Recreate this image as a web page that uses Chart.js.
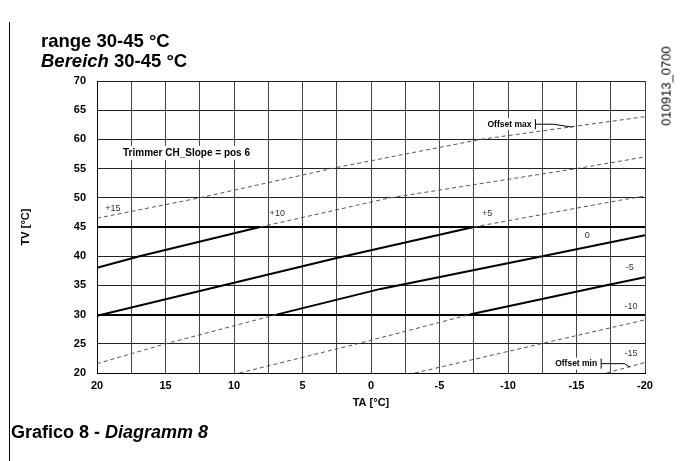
<!DOCTYPE html>
<html>
<head>
<meta charset="utf-8">
<script src="https://cdn.jsdelivr.net/npm/chart.js@4.4.1/dist/chart.umd.min.js"></script>
<style>
    html, body { margin: 0; padding: 0; background: #fff; }
    #wrap { position: relative; width: 688px; height: 461px; font-family: "Liberation Sans", Arial, sans-serif; overflow: hidden; }
    #chart { position: absolute; left: 0; top: 0; }
    .txt { position: absolute; font-weight: bold; color: #000; white-space: nowrap; }
    #frame { position: absolute; left: 9px; top: 22px; width: 1px; height: 439px; background: #000; }
    #code { position: absolute; left: 666px; top: 86px; transform: translate(-50%, -50%) rotate(-90deg); font-size: 13px; color: #000; white-space: nowrap; }
</style>
</head>
<body>
<div id="wrap">
    <canvas id="chart" width="688" height="461"></canvas>
    <div id="frame"></div>
    <div class="txt" style="left:41px; top:31px; font-size:18.5px; line-height:20px;">range 30-45 °C<br><i>Bereich</i> 30-45 °C</div>
    <div class="txt" style="left:11px; top:422px; font-size:18px; line-height:20px;">Grafico 8 - <i>Diagramm 8</i></div>
    <div id="code">010913_0700</div>
</div>
<script>
// curve names (offset setting)
const curveNames = ['+15', '+10', '+5', '0', '-5', '-10', '-15'];

// TA [°C] / TV [°C] for each curve
const taP15 = [20, 12.5, 2.5, -8, -20];
const tvP15 = [46.5, 50, 55.2, 60, 63.9];

const taP10 = [20, 16.9, 8.1, -1.4, -15, -20];
const tvP10 = [38, 40, 45, 50, 55, 57];

const taP5 = [20, 2.5, -7.5, -18.2, -20];
const tvP5 = [29.8, 39.7, 45, 49.6, 50.3];

const taZero = [20, 15, 6.9, -0.7, -12.5, -20];
const tvZero = [21.6, 25, 30, 34.4, 40, 43.6];

const taM5 = [9.6, 1, -7.2, -17.1, -20];
const tvM5 = [20, 25, 30, 35, 36.4];

const taM10 = [-3.2, -12.4, -20];
const tvM10 = [20, 25, 29.1];

const taM15 = [-17.2, -20];
const tvM15 = [20, 21.8];

// working range of the trimmer
const rangeMin = 30;
const rangeMax = 45;

// axis ticks
const taTicks = [20, 15, 10, 5, 0, -5, -10, -15, -20];
const tvTicks = [20, 25, 30, 35, 40, 45, 50, 55, 60, 65, 70];

const curveTA = [taP15, taP10, taP5, taZero, taM5, taM10, taM15];
const curveTV = [tvP15, tvP10, tvP5, tvZero, tvM5, tvM10, tvM15];

const FONT = '"Liberation Sans", Arial, sans-serif';

function outOfRange(ctx) {
    const mid = (ctx.p0.parsed.y + ctx.p1.parsed.y) / 2;
    return mid > rangeMax + 0.01 || mid < rangeMin - 0.01;
}

const datasets = curveNames.map((name, i) => ({
    label: name,
    data: curveTA[i].map((ta, j) => ({ x: ta, y: curveTV[i][j] })),
    borderColor: '#000',
    borderWidth: 2,
    pointRadius: 0,
    tension: 0,
    segment: {
        borderDash: ctx => outOfRange(ctx) ? [4, 3] : undefined,
        borderColor: ctx => outOfRange(ctx) ? '#555' : '#000',
        borderWidth: ctx => outOfRange(ctx) ? 1 : 2
    }
}));

// where the small texts sit, in chart units
const curveLabelPos = [[19.4, 48.2], [7.4, 47.3], [-8.1, 47.3], [-15.6, 43.5], [-18.6, 38], [-18.5, 31.3], [-18.5, 23.3]];

const notes = {
    id: 'notes',
    afterDatasetsDraw(chart) {
        const { ctx, scales: { x, y } } = chart;
        ctx.save();
        ctx.textBaseline = 'middle';

        // curve names
        ctx.font = '9px ' + FONT;
        ctx.fillStyle = '#333';
        ctx.textAlign = 'left';
        curveNames.forEach((name, i) => {
            const p = curveLabelPos[i];
            ctx.fillText(name, x.getPixelForValue(p[0]), y.getPixelForValue(p[1]));
        });

        // trimmer text
        ctx.font = 'bold 10px ' + FONT;
        const tx = x.getPixelForValue(18.1), ty = y.getPixelForValue(57.7);
        const tw = ctx.measureText('Trimmer CH_Slope = pos 6').width;
        ctx.fillStyle = '#fff';
        ctx.fillRect(tx - 2, ty - 7, tw + 4, 14);
        ctx.fillStyle = '#000';
        ctx.fillText('Trimmer CH_Slope = pos 6', tx, ty);

        // offset max / min with leader lines
        ctx.font = 'bold 8.5px ' + FONT;
        ctx.textAlign = 'right';
        ctx.strokeStyle = '#000';
        ctx.lineWidth = 1;
        [['Offset max', -12, 62.6, -13.3, -14.7, 62.1], ['Offset min', -16.8, 21.6, -18.5, -18.9, 21.0]].forEach(n => {
            const px = x.getPixelForValue(n[1]), py = y.getPixelForValue(n[2]);
            const w = ctx.measureText(n[0]).width;
            ctx.fillStyle = '#fff';
            ctx.fillRect(px - w - 6, py - 6, w + 4, 12);
            ctx.fillStyle = '#000';
            ctx.fillText(n[0], px - 4, py);
            ctx.beginPath();
            ctx.moveTo(px, py - 5);
            ctx.lineTo(px, py + 5);
            ctx.moveTo(px, py);
            ctx.lineTo(x.getPixelForValue(n[3]), py);
            ctx.lineTo(x.getPixelForValue(n[4]), y.getPixelForValue(n[5]));
            ctx.stroke();
        });
        ctx.restore();
    }
};

new Chart(document.getElementById('chart'), {
    type: 'line',
    data: { datasets: datasets },
    options: {
        responsive: false,
        animation: false,
        layout: { padding: { left: 0, top: 81, right: 43, bottom: 0 } },
        plugins: { legend: { display: false }, tooltip: { enabled: false } },
        scales: {
            x: {
                type: 'linear',
                reverse: true,
                min: -20,
                max: 20,
                afterFit: s => { s.height = 88; },
                afterBuildTicks: s => {
                    const t = [];
                    for (let v = 20; v >= -20; v -= 2.5) t.push({ value: v });
                    s.ticks = t;
                },
                ticks: {
                    autoSkip: false,
                    maxRotation: 0,
                    padding: 6,
                    color: '#000',
                    font: { family: FONT, size: 11, weight: 'bold' },
                    callback: v => taTicks.includes(v) ? String(v) : ''
                },
                grid: { color: '#444', lineWidth: 1, drawTicks: false },
                border: { display: true, color: '#000', width: 1 },
                title: {
                    display: true,
                    text: 'TA [°C]',
                    color: '#000',
                    font: { family: FONT, size: 11, weight: 'bold' },
                    padding: { top: 0, bottom: 51 }
                }
            },
            y: {
                type: 'linear',
                min: 20,
                max: 70,
                afterFit: s => { s.width = 97; },
                afterBuildTicks: s => { s.ticks = tvTicks.map(v => ({ value: v })); },
                ticks: {
                    padding: 11,
                    color: '#000',
                    font: { family: FONT, size: 11, weight: 'bold' }
                },
                grid: {
                    drawTicks: false,
                    color: c => (c.tick.value === rangeMin || c.tick.value === rangeMax) ? '#000' : '#222',
                    lineWidth: c => (c.tick.value === rangeMin || c.tick.value === rangeMax) ? 2 : 1
                },
                border: { display: true, color: '#000', width: 1 },
                title: {
                    display: true,
                    text: 'TV [°C]',
                    color: '#000',
                    font: { family: FONT, size: 11, weight: 'bold' },
                    padding: { top: 19, bottom: 0 }
                }
            }
        }
    },
    plugins: [notes]
});
</script>
</body>
</html>
